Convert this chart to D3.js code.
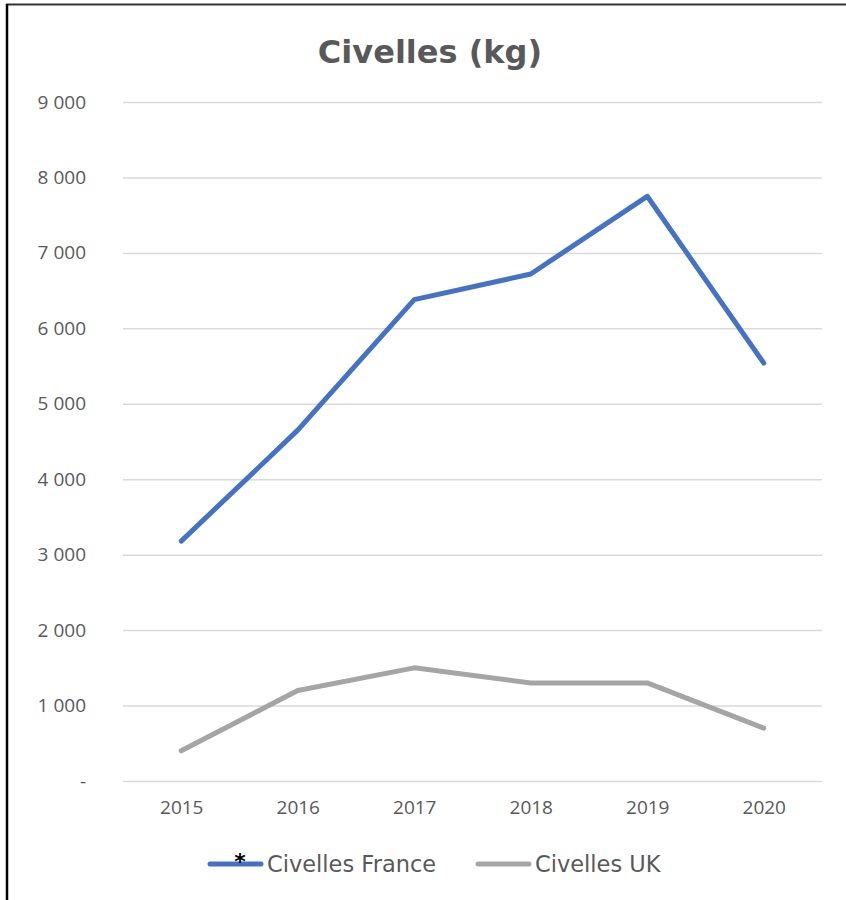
<!DOCTYPE html>
<html>
<head>
<meta charset="utf-8">
<script src="https://cdn.jsdelivr.net/npm/d3@7"></script>
<style>
  body { margin: 0; background: #fff; }
  svg text { fill: #595959; }
</style>
</head>
<body>
<div id="chart"></div>
<script>
var years = ["2015", "2016", "2017", "2018", "2019", "2020"];
var france = [3180, 4650, 6380, 6720, 7750, 5540];
var uk = [400, 1200, 1500, 1300, 1300, 700];
var yTicks = [0, 1000, 2000, 3000, 4000, 5000, 6000, 7000, 8000, 9000];
var seriesNames = ["Civelles France", "Civelles UK"];
var seriesColors = ["#4472C4", "#A5A5A5"];

var width = 846, height = 900;
var margin = { top: 102, right: 24, bottom: 119, left: 123 };
var w = width - margin.left - margin.right;
var h = height - margin.top - margin.bottom;

var svg = d3.select("#chart").append("svg")
  .attr("width", width)
  .attr("height", height);

// frame (top and left edges only visible)
svg.append("line")
  .attr("x1", 6).attr("x2", width).attr("y1", 4.5).attr("y2", 4.5)
  .attr("stroke", "#333").attr("stroke-width", 2);
svg.append("line")
  .attr("x1", 7).attr("x2", 7).attr("y1", 4).attr("y2", height)
  .attr("stroke", "#000").attr("stroke-width", 2.5);

var plot = svg.append("g")
  .attr("transform", "translate(" + margin.left + "," + margin.top + ")");

var x = d3.scalePoint().domain(years).range([0, w]).padding(0.5);
var y = d3.scaleLinear().domain([0, 9000]).range([h, 0]);

var locale = d3.formatLocale({ decimal: ",", thousands: " ", grouping: [3] });
var fmt = locale.format(",");

// gridlines
plot.append("g")
  .attr("class", "grid")
  .call(d3.axisLeft(y).tickValues(yTicks).tickSize(-w).tickFormat(""))
  .call(function(g) {
    g.select(".domain").remove();
    g.selectAll("line").attr("stroke", "#d9d9d9").attr("stroke-width", 1.5);
  });

// y axis labels
plot.append("g")
  .call(d3.axisLeft(y).tickValues(yTicks).tickSize(0).tickPadding(37)
    .tickFormat(function(d) { return d === 0 ? "-" : fmt(d); }))
  .call(function(g) {
    g.select(".domain").remove();
    g.selectAll("text")
      .attr("font-family", "'Open Sans', sans-serif")
      .attr("font-size", 19)
      .attr("fill", "#595959");
  });

// x axis labels
plot.append("g")
  .attr("transform", "translate(0," + h + ")")
  .call(d3.axisBottom(x).tickSize(0).tickPadding(20))
  .call(function(g) {
    g.select(".domain").remove();
    g.selectAll("text")
      .attr("font-family", "'Open Sans', sans-serif")
      .attr("font-size", 19)
      .attr("fill", "#595959");
  });

var line = d3.line()
  .x(function(d, i) { return x(years[i]); })
  .y(function(d) { return y(d); });

[uk, france].forEach(function(s, k) {
  var idx = k === 0 ? 1 : 0;
  plot.append("path")
    .datum(s)
    .attr("fill", "none")
    .attr("stroke", seriesColors[idx])
    .attr("stroke-width", 5)
    .attr("stroke-linecap", "round")
    .attr("stroke-linejoin", "round")
    .attr("d", line);
});

// title
svg.append("text")
  .attr("x", 430)
  .attr("y", 63)
  .attr("text-anchor", "middle")
  .attr("font-family", "'DejaVu Sans', sans-serif")
  .attr("font-weight", "bold")
  .attr("font-size", 32)
  .text("Civelles (kg)");

// legend
var legendX = [208, 476];
var legend = svg.append("g").attr("transform", "translate(0,864)");
seriesNames.forEach(function(name, i) {
  var g = legend.append("g").attr("transform", "translate(" + legendX[i] + ",0)");
  g.append("line")
    .attr("x1", 2).attr("x2", 53)
    .attr("stroke", seriesColors[i])
    .attr("stroke-width", 5)
    .attr("stroke-linecap", "round");
  g.append("text")
    .attr("x", 59)
    .attr("dy", "0.36em")
    .attr("font-family", "'DejaVu Sans', sans-serif")
    .attr("font-size", 22.5)
    .text(name);
});
legend.append("text")
  .attr("x", 240)
  .attr("y", 5)
  .attr("text-anchor", "middle")
  .attr("font-family", "'DejaVu Sans', sans-serif")
  .attr("font-weight", "bold")
  .attr("font-size", 22)
  .style("fill", "#000")
  .text("*");
</script>
</body>
</html>
